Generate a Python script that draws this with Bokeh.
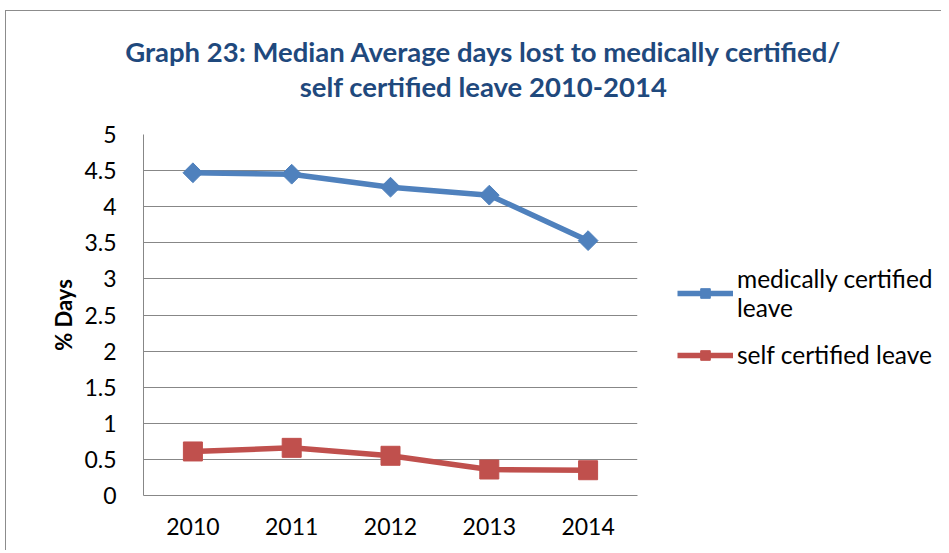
from bokeh.plotting import figure
from bokeh.models import Label, Legend, LegendItem, Range1d, FixedTicker
from bokeh.embed import file_html
from bokeh.resources import INLINE

years = ["2010", "2011", "2012", "2013", "2014"]
medically_certified = [4.47, 4.45, 4.27, 4.16, 3.53]
self_certified = [0.61, 0.66, 0.55, 0.36, 0.35]
y_ticks = [0, 0.5, 1, 1.5, 2, 2.5, 3, 3.5, 4, 4.5, 5]
y_tick_labels = {0: "0", 0.5: "0.5", 1: "1", 1.5: "1.5", 2: "2", 2.5: "2.5",
                 3: "3", 3.5: "3.5", 4: "4", 4.5: "4.5", 5: "5"}
title_line1 = "Graph 23: Median Average days lost to medically certified/"
title_line2 = "self certified leave 2010-2014"

FONT = "Lato"
GRID = "#878787"
BLUE = "#4F81BD"
RED = "#C0504D"
BORDER = "1px solid #8c8c8c"
W = 936

# ---- title strip ----
tf = figure(width=W, height=110, x_range=Range1d(0, W), y_range=Range1d(0, 110),
            min_border=0, x_axis_location=None, y_axis_location=None,
            output_backend="svg", toolbar_location=None,
            styles={"border-left": BORDER, "border-top": BORDER,
                    "margin-left": "5px", "margin-top": "10px"})
tf.grid.grid_line_color = None
tf.outline_line_color = None
for txt, yy in [(title_line1, 70), (title_line2, 35)]:
    tf.add_layout(Label(x=477, y=yy, text=txt,
                        text_align="center", text_baseline="middle",
                        text_font=FONT, text_font_style="bold",
                        text_font_size="27.5px", text_color="#1F497D"))

# ---- chart ----
p = figure(x_range=years, y_range=Range1d(0, 5),
           frame_width=494, frame_height=361,
           min_border_left=137, min_border_right=W - 137 - 494,
           min_border_top=14, min_border_bottom=55,
           output_backend="svg", toolbar_location=None,
           styles={"border-left": BORDER, "margin-left": "5px"})
p.outline_line_color = None

p.yaxis.ticker = FixedTicker(ticks=y_ticks)
p.yaxis.major_label_overrides = dict(y_tick_labels)
p.yaxis.major_tick_line_color = None
p.yaxis.minor_tick_line_color = None
p.yaxis.axis_line_color = GRID
p.yaxis.major_label_standoff = 21
p.yaxis.major_label_text_font = FONT
p.yaxis.major_label_text_font_size = "23px"
p.yaxis.major_label_text_color = "black"
p.yaxis.axis_label = "% Days"
p.yaxis.axis_label_text_font = FONT
p.yaxis.axis_label_text_font_style = "bold"
p.yaxis.axis_label_text_font_size = "22px"
p.yaxis.axis_label_text_color = "black"
p.yaxis.axis_label_standoff = 4

p.xaxis.major_tick_line_color = None
p.xaxis.minor_tick_line_color = None
p.xaxis.axis_line_color = GRID
p.xaxis.major_label_standoff = 16
p.xaxis.major_label_text_font = FONT
p.xaxis.major_label_text_font_size = "23px"
p.xaxis.major_label_text_color = "black"

p.xgrid.grid_line_color = None
p.ygrid.grid_line_color = GRID
p.ygrid.grid_line_width = 1

r1 = p.line(years, medically_certified, line_color=BLUE, line_width=5.5)
m1 = p.scatter(years, medically_certified, marker="square", angle=0.785398,
               size=14, fill_color=BLUE, line_color=BLUE)
r2 = p.line(years, self_certified, line_color=RED, line_width=5.5)
m2 = p.scatter(years, self_certified, marker="square", size=19,
               fill_color=RED, line_color=RED)

legend = Legend(items=[LegendItem(label="medically certified\nleave", renderers=[r1, m1]),
                       LegendItem(label="self certified leave", renderers=[r2, m2])],
                location=(40, 126))
legend.border_line_color = None
legend.background_fill_alpha = 0
legend.padding = 0
legend.margin = 0
legend.spacing = 18
legend.glyph_width = 56
legend.glyph_height = 24
legend.label_standoff = 4
legend.label_text_font = FONT
legend.label_text_font_size = "24.5px"
legend.label_text_color = "black"
p.add_layout(legend, "right")

open("out.html", "w").write(file_html([tf, p], INLINE))
